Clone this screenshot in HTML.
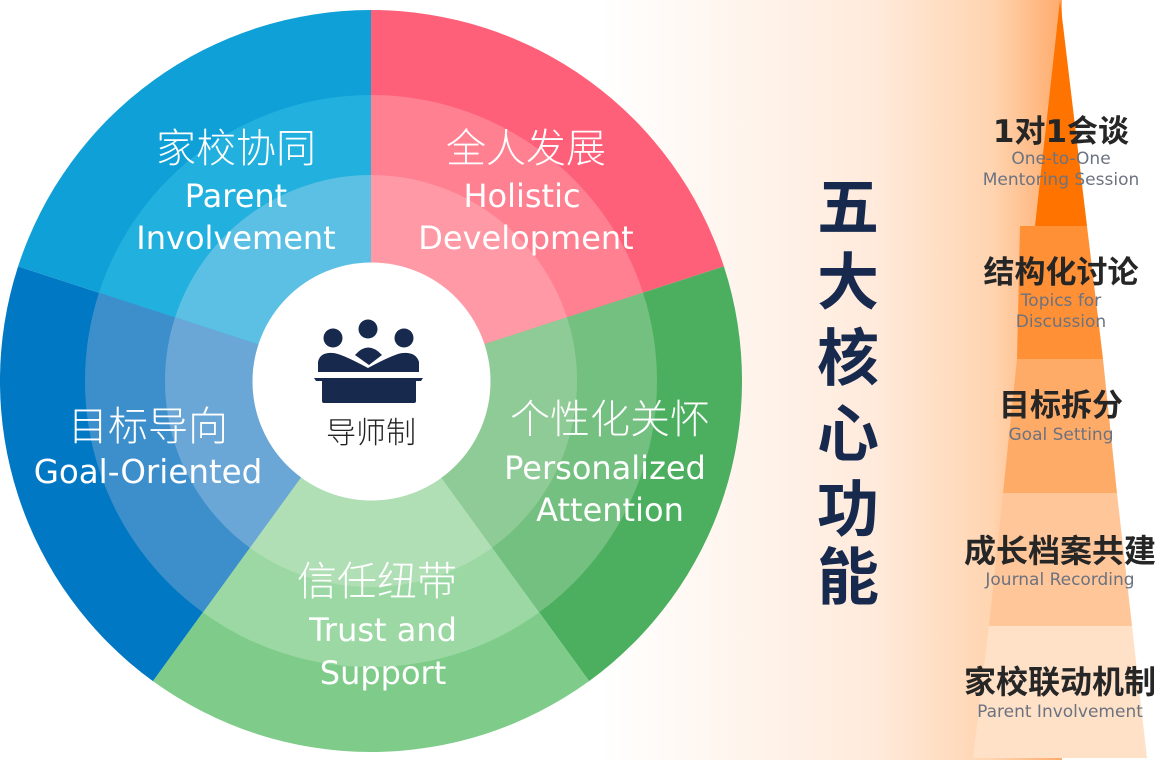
<!DOCTYPE html>
<html><head><meta charset="utf-8"><style>
html,body{margin:0;padding:0;background:#fff}
svg{display:block}
</style></head><body>
<svg width="1162" height="760" viewBox="0 0 1162 760" xmlns="http://www.w3.org/2000/svg">
<defs>
<linearGradient id="band" x1="600" y1="0" x2="1062" y2="0" gradientUnits="userSpaceOnUse">
<stop offset="0" stop-color="#ffffff"/>
<stop offset="0.6" stop-color="#ffeadb"/>
<stop offset="0.85" stop-color="#ffd4b0"/>
<stop offset="1" stop-color="#ffab6c"/>
</linearGradient>
</defs>
<rect x="600" y="0" width="462" height="760" fill="url(#band)"/>
<polygon points="1060,0 1087,226 1035,226" fill="#ff7300"/>
<polygon points="1020,226 1087,226 1103,359 1017,359" fill="#ff9035"/>
<polygon points="1017,359 1103,359 1117,493 1003,493" fill="#ffab68"/>
<polygon points="1003,493 1117,493 1132,626 989,626" fill="#ffc699"/>
<polygon points="989,626 1132,626 1147,758 973,758" fill="#ffe1c8"/>

<path d="M371,381 L371,10 A371,371 0 0 1 723.9,266.4 Z" fill="#ff6079"/>
<path d="M371,381 L723.9,266.4 A371,371 0 0 1 589.1,681.1 Z" fill="#4caf5f"/>
<path d="M371,381 L589.1,681.1 A371,371 0 0 1 152.9,681.1 Z" fill="#7fcc8a"/>
<path d="M371,381 L152.9,681.1 A371,371 0 0 1 18.1,266.4 Z" fill="#0078c4"/>
<path d="M371,381 L18.1,266.4 A371,371 0 0 1 371,10 Z" fill="#0ea0d6"/>
<path d="M371,381 L371,95 A286,286 0 0 1 643,292.6 Z" fill="#ff8091"/>
<path d="M371,381 L643,292.6 A286,286 0 0 1 539.1,612.4 Z" fill="#74c080"/>
<path d="M371,381 L539.1,612.4 A286,286 0 0 1 202.9,612.4 Z" fill="#9cd8a4"/>
<path d="M371,381 L202.9,612.4 A286,286 0 0 1 99,292.6 Z" fill="#3d8fcc"/>
<path d="M371,381 L99,292.6 A286,286 0 0 1 371,95 Z" fill="#22b0de"/>
<path d="M371,381 L371,175 A206,206 0 0 1 566.9,317.3 Z" fill="#ff99a6"/>
<path d="M371,381 L566.9,317.3 A206,206 0 0 1 492.1,547.7 Z" fill="#8fcb96"/>
<path d="M371,381 L492.1,547.7 A206,206 0 0 1 249.9,547.7 Z" fill="#b0dfb5"/>
<path d="M371,381 L249.9,547.7 A206,206 0 0 1 175.1,317.3 Z" fill="#6ba7d6"/>
<path d="M371,381 L175.1,317.3 A206,206 0 0 1 371,175 Z" fill="#5bc0e4"/>
<circle cx="371.5" cy="381.5" r="119" fill="#fff"/>

<g fill="#172a4e">
<circle cx="333" cy="338" r="9.5"/>
<circle cx="368" cy="329" r="9.5"/>
<circle cx="404" cy="338" r="9.5"/>
<path d="M355,355 Q368,340 382,355 L369,365 Z"/>
<path d="M318,372 L318,362 Q320,352 333,353 Q340,353 368,368 Q396,353 403,353 Q416,352 419,362 L419,372 Z"/>
<path d="M314,378 L423,378 L421,381 L416,381 L416,401 Q416,403 414,403 L324,403 Q322,403 322,401 L322,381 L316,381 Z"/>
</g>
<text x="371" y="443" text-anchor="middle" font-family="'DejaVu Sans','Noto Sans CJK SC',sans-serif" font-size="30" font-weight="300" fill="#222">导师制</text>

<g font-family="'DejaVu Sans','Noto Sans CJK SC',sans-serif" fill="#fff" text-anchor="middle">
<text x="236" y="162" font-size="40" font-weight="300">家校协同</text>
<text x="236" y="207" font-size="32">Parent</text>
<text x="236" y="249" font-size="32">Involvement</text>
<text x="526" y="162" font-size="40" font-weight="300">全人发展</text>
<text x="522" y="207" font-size="32">Holistic</text>
<text x="526" y="249" font-size="32">Development</text>
<text x="148" y="440" font-size="40" font-weight="300">目标导向</text>
<text x="148" y="483" font-size="32.5">Goal-Oriented</text>
<text x="610" y="433" font-size="40" font-weight="300">个性化关怀</text>
<text x="605" y="479" font-size="32">Personalized</text>
<text x="610" y="521" font-size="32">Attention</text>
<text x="377" y="595" font-size="40" font-weight="300">信任纽带</text>
<text x="383" y="641" font-size="32">Trust and</text>
<text x="383" y="684" font-size="32">Support</text>
</g>

<g font-family="'Liberation Sans','Noto Sans CJK SC',sans-serif" font-weight="bold" fill="#172a4e" font-size="62" text-anchor="middle">
<text x="848" y="229">五</text>
<text x="848" y="304">大</text>
<text x="848" y="380">核</text>
<text x="848" y="456">心</text>
<text x="848" y="531">功</text>
<text x="848" y="599">能</text>
</g>

<g font-family="'DejaVu Sans','Noto Sans CJK SC',sans-serif" text-anchor="middle">
<text x="1061" y="142" font-size="31" font-weight="bold" fill="#262626">1对1会谈</text>
<text x="1061" y="164" font-size="17" fill="#6b7280">One-to-One</text>
<text x="1061" y="185" font-size="17" fill="#6b7280">Mentoring Session</text>
<text x="1061" y="283" font-size="31" font-weight="bold" fill="#262626">结构化讨论</text>
<text x="1061" y="306" font-size="17" fill="#6b7280">Topics for</text>
<text x="1061" y="327" font-size="17" fill="#6b7280">Discussion</text>
<text x="1061" y="416" font-size="31" font-weight="bold" fill="#262626">目标拆分</text>
<text x="1061" y="440" font-size="17" fill="#6b7280">Goal Setting</text>
<text x="1060" y="562" font-size="32" font-weight="bold" fill="#262626">成长档案共建</text>
<text x="1060" y="585" font-size="17" fill="#6b7280">Journal Recording</text>
<text x="1060" y="693" font-size="32" font-weight="bold" fill="#262626">家校联动机制</text>
<text x="1060" y="717" font-size="17" fill="#6b7280">Parent Involvement</text>
</g>
</svg>
</body></html>
